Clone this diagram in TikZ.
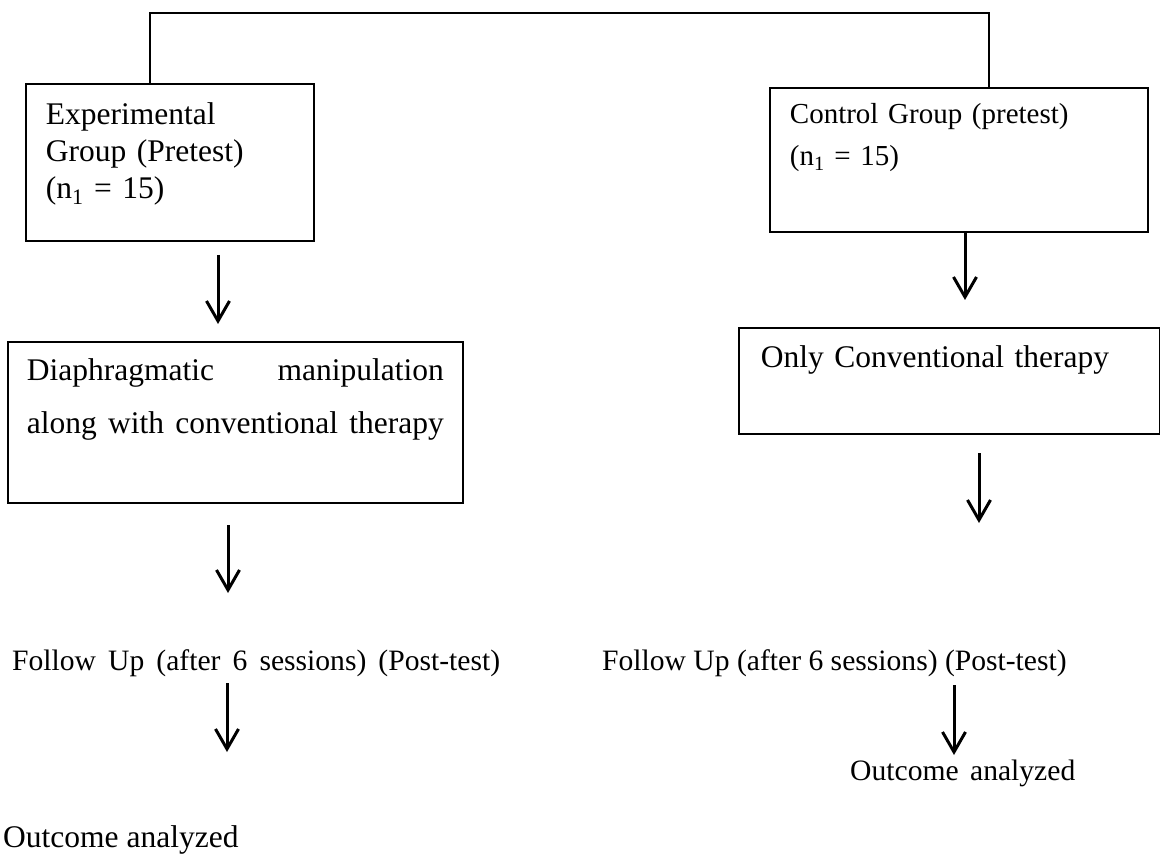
\documentclass[tikz,border=0pt]{standalone}
\usepackage{fontspec}
\setmainfont{Liberation Serif}
\usetikzlibrary{arrows.meta,positioning}

\begin{document}
\begin{tikzpicture}[
  x=1pt, y=-1pt,
  line/.style={draw=black, line width=2.6pt},
  arrow/.style={-{Straight Barb[length=20pt,width=23pt]}, draw=black, line width=3pt},
  box/.style={draw=black, line width=1.8pt, anchor=north west, align=left, inner xsep=20pt, inner ysep=0pt, font=\fontsize{31.5pt}{#1}\selectfont},
  box/.default=37pt,
  note/.style={anchor=base west, inner sep=0pt, font=\fontsize{29.6pt}{36pt}\selectfont},
  bignote/.style={note, font=\fontsize{31.5pt}{37pt}\selectfont}
]
\useasboundingbox (0,0) rectangle (1160,861);

% group boxes
\node[box=37pt, text width=248pt, text height=41pt, text depth=116pt] (exp) at (25,83) {Experimental\\Group (Pretest)\\(n\textsubscript{1} = 15)};
\node[box, font=\fontsize{29pt}{42pt}\selectfont, text width=338pt, text height=36pt, text depth=108pt] (ctrl) at (769,87) {Control Group (pretest)\\(n\textsubscript{1} = 15)};

\draw[line] ([xshift=125pt]exp.north west) -- ++(0,-70) -| ([xshift=-160pt]ctrl.north east);

% therapy boxes
\node[box=53pt, inner xsep=19pt, text width=417pt, text height=39pt, text depth=122pt] (diaph) at (7,341) {Diaphragmatic\hfill manipulation\\along\hfill with\hfill conventional\hfill therapy};
\node[box, inner xsep=22pt, text width=377pt, text height=40pt, text depth=66pt] (only) at (738,327) {Only Conventional therapy};

% follow up and outcome
\node[note] (fuExp) at (12,670) {\makebox[488pt][s]{Follow Up (after 6 sessions) (Post-test)}};
\node[note] (fuCtrl) at (602,670) {Follow Up (after 6 sessions) (Post-test)};
\node[bignote] (outExp) at (3,847) {Outcome analyzed};
\node[note] (outCtrl) at (850,780) {Outcome\hspace{4pt} analyzed};

% arrow ends
\coordinate (e1a) at (218,255);
\coordinate (e1b) at (218,324);
\coordinate (e2a) at (228,525);
\coordinate (e2b) at (228,593);
\coordinate (e3a) at (227,683);
\coordinate (e3b) at (227,752);
\coordinate (c1a) at (965,231);
\coordinate (c1b) at (965,300);
\coordinate (c2a) at (979,453);
\coordinate (c2b) at (979,523);
\coordinate (c3a) at (954,685);
\coordinate (c3b) at (954,755);

\draw[arrow] (e1a) -- (e1b);
\draw[arrow] (e2a) -- (e2b);
\draw[arrow] (e3a) -- (e3b);
\draw[arrow] (c1a) -- (c1b);
\draw[arrow] (c2a) -- (c2b);
\draw[arrow] (c3a) -- (c3b);

\end{tikzpicture}
\end{document}
